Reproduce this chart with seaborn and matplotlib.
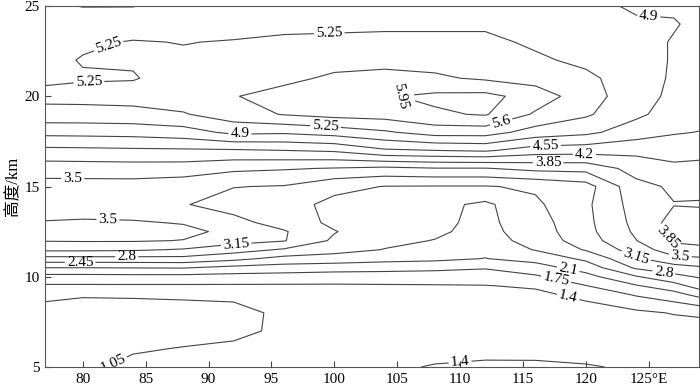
import matplotlib
matplotlib.use("Agg")
import matplotlib.pyplot as plt
import seaborn as sns
import numpy as np

# grid columns: longitude (deg E)
lons = [77, 80, 84, 88, 92, 96, 100, 104, 108, 112, 116, 120, 124, 127, 129]

# grid rows: height (km), split in bands
lower_heights = [5, 6, 7, 8, 9]
middle_heights = [9.5, 10, 10.5, 11, 11.5, 12, 12.5, 13]
upper_heights = [14, 15, 16, 17, 18, 19]
top_heights = [20, 21, 22, 23, 24, 25]

# values, one list per height (west -> east)
lower_rows = [
    [1.00, 1.01, 1.10, 1.15, 1.18, 1.22, 1.25, 1.32, 1.43, 1.48, 1.47, 1.43, 1.35, 1.30, 1.30],
    [0.97, 0.96, 1.03, 1.06, 1.09, 1.14, 1.17, 1.20, 1.25, 1.27, 1.28, 1.25, 1.25, 1.22, 1.22],
    [0.94, 0.94, 0.96, 0.98, 1.00, 1.09, 1.13, 1.16, 1.18, 1.20, 1.20, 1.20, 1.22, 1.22, 1.25],
    [0.97, 0.97, 0.99, 1.00, 0.99, 1.09, 1.15, 1.18, 1.20, 1.22, 1.22, 1.25, 1.33, 1.42, 1.45],
    [1.10, 1.065, 1.065, 1.07, 1.09, 1.20, 1.25, 1.28, 1.30, 1.32, 1.33, 1.48, 1.78, 1.96, 2.20],
]
middle_rows = [
    [1.36, 1.36, 1.36, 1.36, 1.36, 1.36, 1.36, 1.37, 1.38, 1.39, 1.44, 1.74, 2.07, 2.31, 2.60],
    [1.63, 1.63, 1.64, 1.64, 1.62, 1.60, 1.58, 1.57, 1.55, 1.55, 1.70, 1.98, 2.42, 2.70, 2.83],
    [2.10, 2.10, 2.11, 2.12, 2.00, 1.95, 1.90, 1.88, 1.85, 1.78, 1.95, 2.25, 2.85, 3.00, 3.10],
    [2.68, 2.68, 2.69, 2.70, 2.55, 2.33, 2.30, 2.22, 2.18, 2.09, 2.22, 2.52, 3.10, 3.40, 3.45],
    [3.22, 3.22, 3.20, 3.12, 2.95, 2.76, 2.57, 2.44, 2.33, 2.20, 2.47, 2.83, 3.32, 3.70, 3.75],
    [3.52, 3.53, 3.53, 3.49, 3.28, 3.17, 2.74, 2.52, 2.44, 2.30, 2.58, 2.98, 3.49, 3.90, 3.95],
    [3.62, 3.64, 3.64, 3.58, 3.42, 3.18, 2.82, 2.55, 2.50, 2.35, 2.62, 3.04, 3.56, 3.95, 4.00],
    [3.52, 3.54, 3.53, 3.48, 3.25, 3.02, 2.72, 2.57, 2.52, 2.37, 2.65, 3.06, 3.60, 3.97, 4.02],
]
upper_rows = [
    [3.32, 3.33, 3.30, 3.17, 3.02, 2.95, 2.70, 2.62, 2.55, 2.38, 2.74, 3.08, 3.65, 3.84, 3.82],
    [3.36, 3.36, 3.36, 3.30, 3.16, 3.13, 2.90, 2.79, 2.78, 2.78, 2.85, 3.00, 3.75, 3.90, 3.95],
    [3.67, 3.68, 3.69, 3.68, 3.57, 3.53, 3.48, 3.42, 3.48, 3.48, 3.60, 3.62, 3.98, 4.13, 4.10],
    [4.11, 4.12, 4.14, 4.15, 4.16, 4.20, 4.25, 4.50, 4.55, 4.60, 4.38, 4.35, 4.30, 4.33, 4.32],
    [4.65, 4.66, 4.68, 4.75, 4.98, 4.95, 5.05, 5.20, 5.40, 5.40, 5.10, 4.98, 4.72, 4.58, 4.54],
    [5.12, 5.12, 5.14, 5.22, 5.45, 5.62, 5.72, 5.75, 5.90, 5.98, 5.55, 5.30, 4.97, 4.75, 4.68],
]
top_rows = [
    [5.35, 5.36, 5.38, 5.45, 5.58, 5.75, 5.88, 5.92, 6.02, 6.05, 5.80, 5.40, 5.05, 4.82, 4.74],
    [5.18, 5.22, 5.23, 5.38, 5.45, 5.50, 5.67, 5.70, 5.65, 5.55, 5.45, 5.32, 5.08, 4.85, 4.77],
    [5.16, 5.27, 5.28, 5.30, 5.35, 5.40, 5.45, 5.50, 5.48, 5.45, 5.30, 5.18, 5.05, 4.87, 4.80],
    [5.12, 5.20, 5.27, 5.24, 5.27, 5.30, 5.30, 5.32, 5.32, 5.32, 5.20, 5.08, 5.00, 4.88, 4.82],
    [5.08, 5.05, 5.08, 5.10, 5.12, 5.18, 5.20, 5.20, 5.20, 5.20, 5.10, 5.02, 4.93, 4.92, 4.84],
    [4.95, 4.89, 4.89, 5.00, 5.02, 5.05, 5.08, 5.08, 5.08, 5.08, 5.02, 4.96, 4.87, 4.86, 4.86],
]

levels = [1.05, 1.4, 1.75, 2.1, 2.45, 2.8, 3.15, 3.5, 3.85, 4.2, 4.55, 4.9, 5.25, 5.6, 5.95]
xticks = [80, 85, 90, 95, 100, 105, 110, 115, 120, 125]
xtick_labels = ["80", "85", "90", "95", "100", "105", "110", "115", "120", "125°E"]
yticks = [5, 10, 15, 20, 25]

# where the labels sit on the lines
label_spots = [
    (81.8, 23.3), (99.6, 23.55), (80.5, 20.7), (92.5, 18.0), (99.3, 18.35),
    (105.1, 19.6), (113.3, 18.5), (125.0, 24.3),
    (116.8, 17.25), (119.9, 16.8), (117.0, 16.3),
    (79.2, 15.45), (82.0, 13.15), (92.2, 11.8), (83.5, 11.05), (79.8, 10.8),
    (118.6, 10.4), (117.6, 9.75), (118.6, 8.9),
    (124.0, 11.15), (126.2, 10.25), (127.5, 11.12), (126.6, 12.2),
    (82.3, 5.35), (110.0, 5.27),
]

sns.set_theme(style="ticks")
plt.rcParams["font.family"] = ["Liberation Serif", "Noto Sans CJK SC"]
plt.rcParams["axes.unicode_minus"] = False

heights = lower_heights + middle_heights + upper_heights + top_heights
grid = np.array(lower_rows + middle_rows + upper_rows + top_rows)

fig = plt.figure(figsize=(7, 3.89), dpi=100)
ax = fig.add_axes([45 / 700, 22 / 389, 654 / 700, 361 / 389])

cs = ax.contour(lons, heights, grid, levels=levels, colors="#444444", linewidths=0.8)


def fmt(v):
    return f"{v:.2f}".rstrip("0").rstrip(".")


ax.clabel(cs, levels, manual=label_spots, fmt=fmt, inline=True,
          inline_spacing=2, fontsize=11, colors="black")

ax.set_xlim(77, 129)
ax.set_ylim(5, 25)
ax.set_xticks(xticks)
ax.set_xticklabels(xtick_labels)
ax.set_yticks(yticks)
ax.tick_params(direction="in", length=4, width=0.8, color="#444444",
               labelsize=11, labelcolor="black", pad=4)
for side in ["top", "right", "bottom", "left"]:
    ax.spines[side].set_visible(True)
    ax.spines[side].set_color("#555555")
    ax.spines[side].set_linewidth(0.8)

ax.set_ylabel("高度/km", fontsize=12, color="black")
ax.yaxis.set_label_coords(-0.036, 0.5)

fig.savefig("out.png", dpi=100)
